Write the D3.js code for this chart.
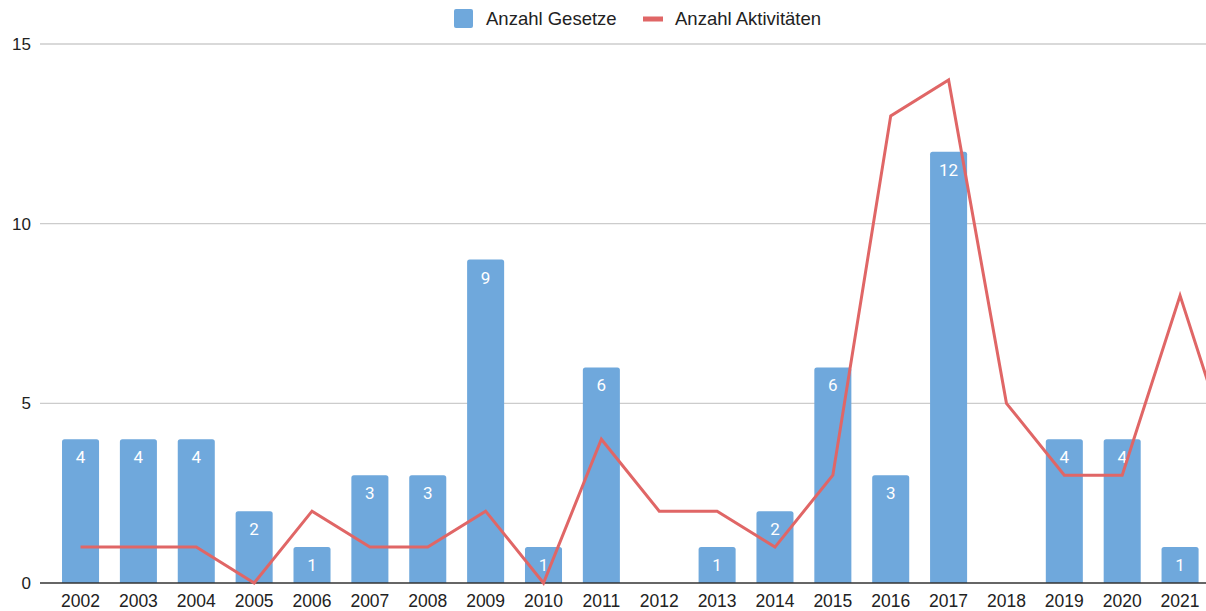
<!DOCTYPE html>
<html>
<head>
<meta charset="utf-8">
<script src="https://cdn.jsdelivr.net/npm/d3@7"></script>
<style>
  body { margin: 0; background: #fff; }
  svg { display: block; font-family: "Liberation Sans", Arial, sans-serif; }
</style>
</head>
<body>
<svg id="chart"></svg>
<script>
var years = ["2002", "2003", "2004", "2005", "2006", "2007", "2008", "2009", "2010", "2011",
  "2012", "2013", "2014", "2015", "2016", "2017", "2018", "2019", "2020", "2021", "2022"];
// null = no bar in the picture (2022 is cut off on the right)
var gesetze = [4, 4, 4, 2, 1, 3, 3, 9, 1, 6, 0, 1, 2, 6, 3, 12, 0, 4, 4, 1, null];
var aktivitaeten = [1, 1, 1, 0, 2, 1, 1, 2, 0, 4, 2, 2, 1, 3, 13, 14, 5, 3, 3, 8, 3];
var yTicks = [0, 5, 10, 15];

var width = 1206, height = 611;
var barColor = "#6fa8dc";
var lineColor = "#e06666";

var svg = d3.select("#chart").attr("width", width).attr("height", height);

var step = 57.87;
var x = d3
  .scaleBand()
  .domain(years)
  .range([51.6, 51.6 + step * years.length])
  .paddingInner(0.36)
  .paddingOuter(0.18);

var y = d3.scaleLinear().domain([0, 15]).range([583, 44]);

// gridlines
svg
  .selectAll("line.grid")
  .data(yTicks.filter(function (d) { return d > 0; }))
  .enter()
  .append("line")
  .attr("class", "grid")
  .attr("x1", 40)
  .attr("x2", width)
  .attr("y1", function (d) { return y(d); })
  .attr("y2", function (d) { return y(d); })
  .attr("stroke", "#cccccc")
  .attr("stroke-width", 1.3);

// y labels
svg
  .selectAll("text.ylab")
  .data(yTicks)
  .enter()
  .append("text")
  .attr("class", "ylab")
  .attr("x", 31)
  .attr("y", function (d) { return y(d) + 6; })
  .attr("text-anchor", "end")
  .attr("font-size", "17px")
  .attr("fill", "#222")
  .text(function (d) { return d; });

// bars with rounded top corners
function barPath(d, i) {
  var x0 = x(years[i]), w = x.bandwidth();
  var top = y(d), bot = y(0), r = 2.5;
  return "M" + x0 + "," + bot +
    "V" + (top + r) +
    "Q" + x0 + "," + top + " " + (x0 + r) + "," + top +
    "H" + (x0 + w - r) +
    "Q" + (x0 + w) + "," + top + " " + (x0 + w) + "," + (top + r) +
    "V" + bot + "Z";
}

var barData = gesetze
  .map(function (d, i) { return { v: d, i: i }; })
  .filter(function (d) { return d.v; });

svg
  .selectAll("path.bar")
  .data(barData)
  .enter()
  .append("path")
  .attr("class", "bar")
  .attr("d", function (d) { return barPath(d.v, d.i); })
  .attr("fill", barColor);

svg
  .selectAll("text.blab")
  .data(barData)
  .enter()
  .append("text")
  .attr("class", "blab")
  .attr("x", function (d) { return x(years[d.i]) + x.bandwidth() / 2; })
  .attr("y", function (d) { return y(d.v) + 24; })
  .attr("text-anchor", "middle")
  .attr("font-family", "Roboto, sans-serif")
  .attr("font-size", "17px")
  .attr("fill", "#fff")
  .text(function (d) { return d.v; });

// baseline
svg
  .append("line")
  .attr("x1", 40)
  .attr("x2", width)
  .attr("y1", y(0))
  .attr("y2", y(0))
  .attr("stroke", "#333")
  .attr("stroke-width", 1.3);

// x labels (only those inside the visible area)
svg
  .selectAll("text.xlab")
  .data(years.filter(function (d) { return x(d) + x.bandwidth() < width; }))
  .enter()
  .append("text")
  .attr("class", "xlab")
  .attr("x", function (d) { return x(d) + x.bandwidth() / 2; })
  .attr("y", 607)
  .attr("text-anchor", "middle")
  .attr("font-size", "17.5px")
  .attr("fill", "#222")
  .text(function (d) { return d; });

// line
var line = d3
  .line()
  .x(function (d, i) { return x(years[i]) + x.bandwidth() / 2; })
  .y(function (d) { return y(d); });

svg
  .append("path")
  .datum(aktivitaeten)
  .attr("d", line)
  .attr("fill", "none")
  .attr("stroke", lineColor)
  .attr("stroke-width", 3)
  .attr("stroke-linejoin", "miter");

// legend
var legend = svg.append("g");
legend
  .append("rect")
  .attr("x", 454)
  .attr("y", 9)
  .attr("width", 19)
  .attr("height", 19)
  .attr("rx", 2)
  .attr("fill", barColor);
legend
  .append("text")
  .attr("x", 486)
  .attr("y", 25)
  .attr("font-size", "18.5px")
  .attr("fill", "#222")
  .text("Anzahl Gesetze");
legend
  .append("rect")
  .attr("x", 643)
  .attr("y", 16.5)
  .attr("width", 20)
  .attr("height", 5)
  .attr("fill", lineColor);
legend
  .append("text")
  .attr("x", 675)
  .attr("y", 25)
  .attr("font-size", "18.5px")
  .attr("fill", "#222")
  .text("Anzahl Aktivitäten");
</script>
</body>
</html>
